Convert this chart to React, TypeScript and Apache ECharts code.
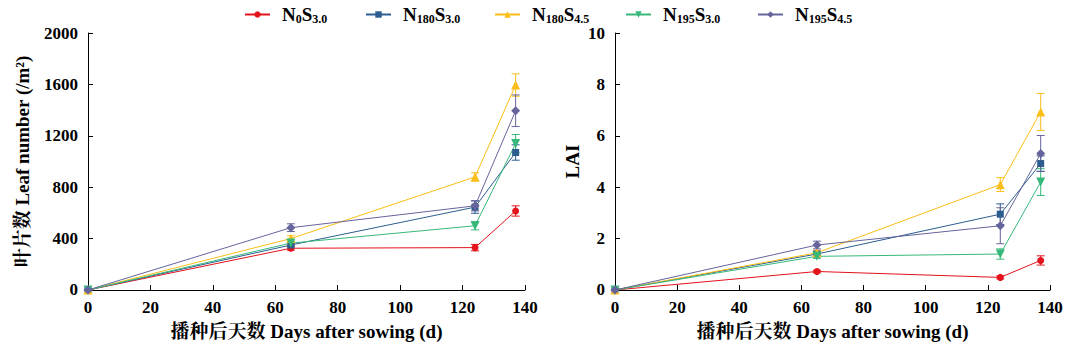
import React, { useEffect, useRef } from "react";
import * as echarts from "echarts";

const days = [0, 65, 124, 137];
const seriesNames = ["N0S3.0", "N180S3.0", "N180S4.5", "N195S3.0", "N195S4.5"];
const legendLabels = ["N{s|0}S{s|3.0}", "N{s|180}S{s|3.0}", "N{s|180}S{s|4.5}", "N{s|195}S{s|3.0}", "N{s|195}S{s|4.5}"];
const xTitle = "播种后天数 Days after sowing (d)";
const leafTitle = "叶片数 Leaf number (/m²)";
const laiTitle = "LAI";

const leafN0S30 = [0, 325, 330, 615];
const leafN180S30 = [0, 350, 645, 1070];
const leafN180S45 = [0, 400, 880, 1595];
const leafN195S30 = [0, 365, 500, 1140];
const leafN195S45 = [0, 485, 655, 1395];
const leafErrN0S30 = [0, 15, 25, 40];
const leafErrN180S30 = [0, 15, 48, 60];
const leafErrN180S45 = [0, 22, 32, 87];
const leafErrN195S30 = [0, 15, 32, 70];
const leafErrN195S45 = [0, 30, 40, 123];

const laiN0S30 = [0, 0.72, 0.49, 1.15];
const laiN180S30 = [0, 1.4, 2.95, 4.92];
const laiN180S45 = [0, 1.45, 4.1, 6.93];
const laiN195S30 = [0, 1.31, 1.4, 4.2];
const laiN195S45 = [0, 1.75, 2.5, 5.31];
const laiErrN0S30 = [0, 0.05, 0.06, 0.18];
const laiErrN180S30 = [0, 0.1, 0.4, 0.3];
const laiErrN180S45 = [0, 0.1, 0.27, 0.72];
const laiErrN195S30 = [0, 0.08, 0.2, 0.52];
const laiErrN195S45 = [0, 0.15, 0.7, 0.7];

const leafValues = [leafN0S30, leafN180S30, leafN180S45, leafN195S30, leafN195S45];
const leafErrors = [leafErrN0S30, leafErrN180S30, leafErrN180S45, leafErrN195S30, leafErrN195S45];
const laiValues = [laiN0S30, laiN180S30, laiN180S45, laiN195S30, laiN195S45];
const laiErrors = [laiErrN0S30, laiErrN180S30, laiErrN180S45, laiErrN195S30, laiErrN195S45];

const colors = ["#e3121b", "#2d5d8e", "#fbbd17", "#36b87a", "#65649c"];
const symbols = ["circle", "rect", "triangle", "triangle", "diamond"];
const symbolRotates = [0, 0, 0, 180, 0];
const symbolSizes = [7, 7, 9, 9, 9];
const legendLefts = [244, 365, 494, 625, 757];

const FONT = "'Liberation Serif', 'Noto Serif CJK SC', 'Noto Sans CJK SC', serif";

function errSeries(vals: number[], errs: number[], color: string, axisIdx: number) {
  const data = days
    .map((d, i) => [d, vals[i] - errs[i], vals[i] + errs[i]])
    .filter((_, i) => errs[i] > 0);
  return {
    type: "custom",
    xAxisIndex: axisIdx,
    yAxisIndex: axisIdx,
    silent: true,
    z: 1,
    data,
    renderItem: (params: any, api: any) => {
      const x = api.value(0);
      const top = api.coord([x, api.value(2)]);
      const bot = api.coord([x, api.value(1)]);
      const w = 4;
      const style = { stroke: color, lineWidth: 1 };
      return {
        type: "group",
        children: [
          { type: "line", shape: { x1: top[0], y1: top[1], x2: bot[0], y2: bot[1] }, style },
          { type: "line", shape: { x1: top[0] - w, y1: top[1], x2: top[0] + w, y2: top[1] }, style },
          { type: "line", shape: { x1: bot[0] - w, y1: bot[1], x2: bot[0] + w, y2: bot[1] }, style },
        ],
      };
    },
  };
}

function lineSeries(name: string, vals: number[], idx: number, axisIdx: number) {
  return {
    name,
    type: "line",
    xAxisIndex: axisIdx,
    yAxisIndex: axisIdx,
    data: days.map((d, i) => [d, vals[i]]),
    symbol: symbols[idx],
    symbolSize: symbolSizes[idx],
    symbolRotate: symbolRotates[idx],
    showSymbol: true,
    z: 2,
    lineStyle: { color: colors[idx], width: 1 },
    itemStyle: { color: colors[idx] },
  };
}

const axisLabelStyle = { fontFamily: FONT, fontWeight: "bold", fontSize: 17, color: "#000" };
const nameStyle = { fontFamily: FONT, fontWeight: "bold", fontSize: 19, color: "#000" };

function xAxis(gridIndex: number) {
  return {
    type: "value",
    gridIndex,
    min: 0,
    max: 140,
    interval: 20,
    name: xTitle,
    nameLocation: "middle",
    nameGap: 32,
    nameTextStyle: nameStyle,
    axisLine: { show: true, lineStyle: { color: "#000", width: 1 } },
    axisTick: { show: true, inside: true, length: 5, lineStyle: { color: "#000" } },
    axisLabel: { ...axisLabelStyle, margin: 9 },
    splitLine: { show: false },
  };
}

function yAxis(gridIndex: number, max: number, interval: number, name: string, gap: number) {
  return {
    type: "value",
    gridIndex,
    min: 0,
    max,
    interval,
    name,
    nameLocation: "middle",
    nameGap: gap,
    nameTextStyle: nameStyle,
    axisLine: { show: true, lineStyle: { color: "#000", width: 1 } },
    axisTick: { show: true, inside: true, length: 5, lineStyle: { color: "#000" } },
    axisLabel: { ...axisLabelStyle, margin: 10, formatter: (v: number) => String(v) },
    splitLine: { show: false },
  };
}

export default function App() {
  const ref = useRef<HTMLDivElement>(null);
  useEffect(() => {
    if (!ref.current) return;
    const chart = echarts.init(ref.current, undefined, { renderer: "svg" });
    const series: any[] = [];
    seriesNames.forEach((n, i) => {
      series.push(errSeries(leafValues[i], leafErrors[i], colors[i], 0));
      series.push(errSeries(laiValues[i], laiErrors[i], colors[i], 1));
    });
    seriesNames.forEach((n, i) => {
      series.push(lineSeries(n, leafValues[i], i, 0));
      series.push(lineSeries(n, laiValues[i], i, 1));
    });
    const legends = seriesNames.map((n, i) => ({
      top: 5,
      left: legendLefts[i],
      padding: 0,
      itemWidth: 25,
      itemHeight: 8,
      data: [n],
      formatter: (name: string) => "{g|}" + legendLabels[seriesNames.indexOf(name)],
      textStyle: {
        fontFamily: FONT,
        fontWeight: "bold",
        fontSize: 19,
        color: "#000",
        rich: {
          g: { width: 7 },
          s: { fontFamily: FONT, fontWeight: "bold", fontSize: 12, color: "#000", padding: [8, 0, 0, 0] },
        },
      },
    }));
    chart.setOption({
      animation: false,
      backgroundColor: "#fff",
      legend: legends,
      grid: [
        { left: 88, top: 33, width: 437, height: 258, containLabel: false },
        { left: 615, top: 33, width: 435, height: 258, containLabel: false },
      ],
      xAxis: [xAxis(0), xAxis(1)],
      yAxis: [yAxis(0, 2000, 400, leafTitle, 56), yAxis(1, 10, 2, laiTitle, 33)],
      series,
    });
    return () => chart.dispose();
  }, []);
  return (
    <div
      ref={ref}
      style={{ position: "absolute", left: 0, top: 0, width: 1074, height: 346 }}
    />
  );
}
